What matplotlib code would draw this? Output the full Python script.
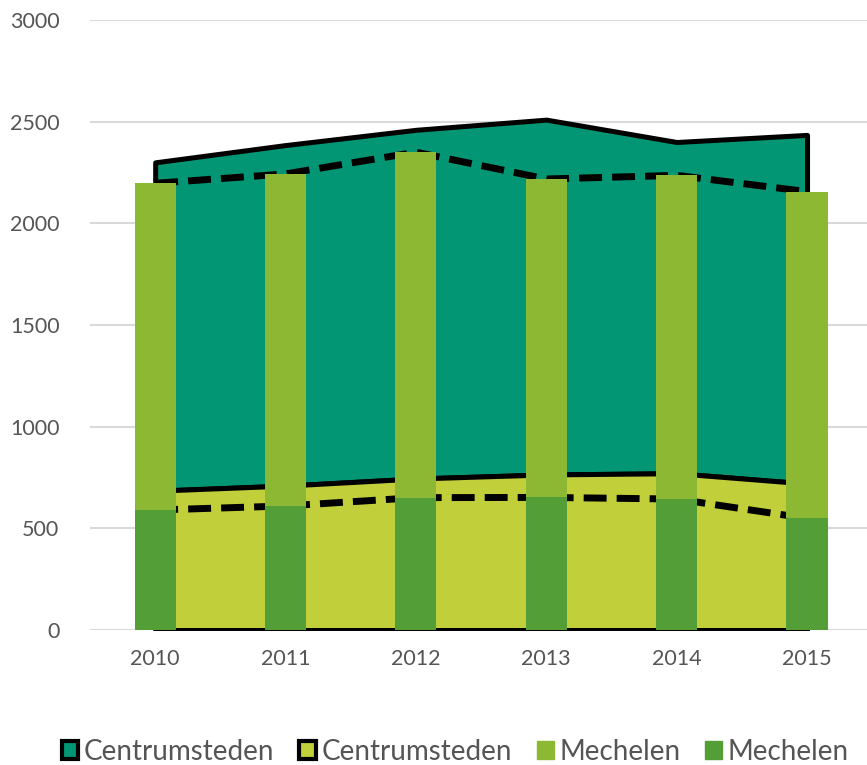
import numpy as np
import matplotlib.pyplot as plt
from matplotlib.patches import Patch

years = ['2010', '2011', '2012', '2013', '2014', '2015']
# Centrumsteden (stacked areas)
centrum_low = [685, 710, 745, 765, 771, 720]
centrum_high = [1615, 1675, 1715, 1745, 1629, 1715]
# Mechelen (stacked bars)
mech_low = [590, 610, 651, 652, 644, 549]
mech_high = [1607, 1633, 1699, 1566, 1592, 1607]

c_teal = '#029674'
c_yellow = '#c1cf3a'
c_light = '#8cb834'
c_dark = '#539e37'
txt = '#555555'

plt.rcParams['font.family'] = ['Lato', 'DejaVu Sans']

fig = plt.figure(figsize=(8.67, 7.65), dpi=100)
ax = fig.add_axes([90 / 867, 135 / 765, 777 / 867, 610 / 765])

x = np.arange(len(years))
low = np.array(centrum_low)
total = low + np.array(centrum_high)

ax.fill_between(x, low, total, facecolor=c_teal, edgecolor='black', linewidth=3.6, zorder=1)
ax.fill_between(x, 0, low, facecolor=c_yellow, edgecolor='black', linewidth=3.6, zorder=1.5)

m_low = np.array(mech_low)
m_tot = m_low + np.array(mech_high)
ax.plot(x, m_low, color='black', linewidth=5, dashes=(3.3, 1.45), zorder=2)
ax.plot(x, m_tot, color='black', linewidth=5, dashes=(3.3, 1.45), zorder=2)

w = 0.315
ax.bar(x, m_low, width=w, color=c_dark, zorder=3)
ax.bar(x, mech_high, width=w, bottom=m_low, color=c_light, zorder=3)

ax.set_xlim(-0.5, 5.46)
ax.set_ylim(0, 3000)
ax.set_yticks(np.arange(0, 3001, 500))
ax.set_xticks(x)
ax.set_xticklabels(years)
ax.grid(axis='y', color='#d9d9d9', linewidth=1.5, zorder=0)
ax.set_axisbelow(True)
for s in ax.spines.values():
    s.set_visible(False)
ax.tick_params(axis='both', length=0, labelsize=15.5, labelcolor=txt)
ax.tick_params(axis='y', pad=22)
ax.tick_params(axis='x', pad=14)

handles = [
    Patch(facecolor=c_teal, edgecolor='black', linewidth=3),
    Patch(facecolor=c_yellow, edgecolor='black', linewidth=3),
    Patch(facecolor=c_light, edgecolor=c_light),
    Patch(facecolor=c_dark, edgecolor=c_dark),
]
labels = ['Centrumsteden', 'Centrumsteden', 'Mechelen', 'Mechelen']
fig.legend(handles, labels, loc='center', bbox_to_anchor=(0.525, 0.017),
           ncol=4, frameon=False, fontsize=20, labelcolor=txt, handlelength=0.6,
           handleheight=0.6, handletextpad=0.2, columnspacing=0.9)

fig.savefig('out.png', dpi=100)
